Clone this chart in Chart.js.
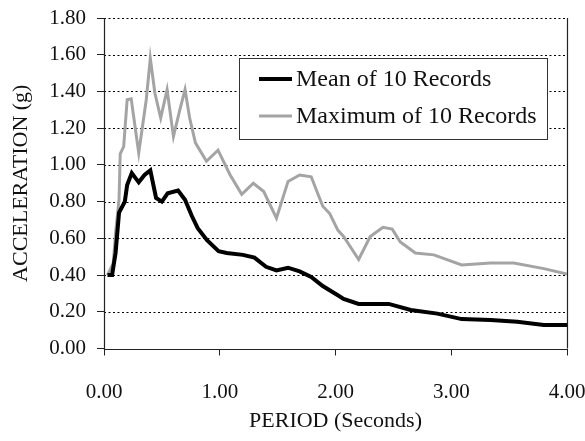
<!DOCTYPE html>
<html>
<head>
<meta charset="utf-8">
<script src="https://cdn.jsdelivr.net/npm/chart.js@4/dist/chart.umd.min.js"></script>
<style>
  html, body { margin: 0; padding: 0; background: #fff; }
  #wrap { width: 585px; height: 441px; }
</style>
</head>
<body>
<div id="wrap"><canvas id="c" width="585" height="441"></canvas></div>
<script>
// ---- data ----
const seriesLabels = ["Mean of 10 Records", "Maximum of 10 Records"];

const meanPeriod = [0.03,0.07,0.10,0.13,0.18,0.20,0.24,0.30,0.35,0.40,0.45,0.50,0.55,0.64,0.70,0.76,0.81,0.89,0.99,1.06,1.20,1.30,1.40,1.49,1.59,1.69,1.79,1.89,2.02,2.07,2.20,2.46,2.65,2.88,3.09,3.34,3.57,3.80,4.00];
const meanAccel  = [0.40,0.40,0.52,0.74,0.80,0.89,0.955,0.905,0.945,0.97,0.82,0.80,0.845,0.86,0.81,0.72,0.655,0.59,0.53,0.52,0.51,0.495,0.445,0.425,0.44,0.42,0.39,0.34,0.29,0.27,0.243,0.243,0.21,0.19,0.16,0.155,0.146,0.128,0.128];

const maxPeriod = [0.03,0.08,0.10,0.13,0.14,0.17,0.20,0.235,0.30,0.365,0.40,0.44,0.49,0.545,0.60,0.655,0.70,0.74,0.79,0.885,0.985,1.09,1.19,1.29,1.38,1.49,1.59,1.69,1.79,1.89,1.95,2.02,2.07,2.20,2.30,2.41,2.49,2.56,2.69,2.85,3.09,3.34,3.54,3.80,4.00];
const maxAccel  = [0.40,0.465,0.63,0.81,1.06,1.10,1.355,1.36,1.065,1.355,1.58,1.39,1.255,1.41,1.155,1.30,1.41,1.255,1.12,1.02,1.08,0.945,0.84,0.90,0.855,0.71,0.91,0.945,0.935,0.775,0.735,0.645,0.61,0.485,0.61,0.66,0.65,0.58,0.52,0.51,0.455,0.465,0.465,0.435,0.405];

const xTicks = [0, 1, 2, 3, 4];
const yTicks = [0, 0.2, 0.4, 0.6, 0.8, 1.0, 1.2, 1.4, 1.6, 1.8];
const xTitle = "PERIOD (Seconds)";
const yTitle = "ACCELERATION (g)";

const toPoints = (xs, ys) => xs.map((x, i) => ({ x: x, y: ys[i] }));

const FONT = "'Liberation Serif', 'Times New Roman', serif";

// dotted horizontal grid + solid frame lines, placed through the chart's own scales
const frameGrid = {
  id: 'frameGrid',
  beforeDatasetsDraw(chart) {
    const ctx = chart.ctx, ys = chart.scales.y, xs = chart.scales.x;
    const L = xs.getPixelForValue(xTicks[0]);
    const R = xs.getPixelForValue(xTicks[xTicks.length - 1]);
    const T = ys.getPixelForValue(yTicks[yTicks.length - 1]);
    const B = ys.getPixelForValue(yTicks[0]);
    ctx.save();
    ctx.strokeStyle = '#000';
    ctx.lineWidth = 1.2;
    ctx.setLineDash([2, 2.5]);
    yTicks.forEach(v => {
      if (v === 0) return;
      const py = Math.round(ys.getPixelForValue(v)) + 0.5;
      ctx.beginPath();
      ctx.moveTo(L, py);
      ctx.lineTo(R, py);
      ctx.stroke();
    });
    ctx.setLineDash([]);
    ctx.strokeStyle = '#222';
    ctx.lineWidth = 1.2;
    const px = Math.round(R) + 0.5;
    ctx.beginPath();
    ctx.moveTo(px, T);
    ctx.lineTo(px, B);
    ctx.stroke();
    const lx = Math.round(L) + 0.5, by = Math.round(B) + 0.5;
    ctx.beginPath();
    ctx.moveTo(lx, T);
    ctx.lineTo(lx, by);
    ctx.lineTo(R, by);
    ctx.stroke();
    ctx.restore();
  }
};

// legend box drawn from the datasets
const boxLegend = {
  id: 'boxLegend',
  afterDatasetsDraw(chart) {
    const ctx = chart.ctx;
    const x0 = 239, y0 = 58, w = 308, h = 81;
    ctx.save();
    ctx.fillStyle = '#fff';
    ctx.fillRect(x0, y0, w, h);
    ctx.strokeStyle = '#333';
    ctx.lineWidth = 1;
    ctx.strokeRect(x0 + 0.5, y0 + 0.5, w, h);
    ctx.font = "24px " + FONT;
    ctx.textBaseline = 'middle';
    ctx.textAlign = 'left';
    const rows = [79, 116];
    chart.data.datasets.forEach((ds, i) => {
      const y = rows[i];
      ctx.strokeStyle = ds.borderColor;
      ctx.lineWidth = ds.borderWidth;
      ctx.beginPath();
      ctx.moveTo(259, y);
      ctx.lineTo(292, y);
      ctx.stroke();
      ctx.fillStyle = '#111';
      ctx.fillText(ds.label, 296, y + 1);
    });
    ctx.restore();
  }
};

new Chart(document.getElementById('c'), {
  type: 'line',
  data: {
    datasets: [
      { label: seriesLabels[0], data: toPoints(meanPeriod, meanAccel), borderColor: '#000', borderWidth: 4, pointRadius: 0, tension: 0, fill: false, order: 0 },
      { label: seriesLabels[1], data: toPoints(maxPeriod, maxAccel), borderColor: '#a4a4a4', borderWidth: 3, pointRadius: 0, tension: 0, fill: false, order: 1 }
    ]
  },
  options: {
    responsive: false,
    animation: false,
    layout: { padding: { top: 18, right: 18, left: 0, bottom: 0 } },
    plugins: { legend: { display: false }, tooltip: { enabled: false } },
    scales: {
      x: {
        type: 'linear',
        min: 0, max: 4,
        afterBuildTicks: (s) => { s.ticks = xTicks.map(v => ({ value: v })); },
        afterFit: (s) => { s.height = 92.5; s.paddingLeft = 0; s.paddingRight = 0; },
        ticks: { color: '#111', font: { family: FONT, size: 21 }, padding: 24, maxRotation: 0, callback: (v) => Number(v).toFixed(2) },
        grid: { drawOnChartArea: false, color: '#222', tickColor: '#222', tickLength: 7, lineWidth: 1 },
        border: { display: false },
        title: { display: true, text: xTitle, color: '#111', font: { family: FONT, size: 22 }, padding: { top: 0, bottom: 7 } }
      },
      y: {
        type: 'linear',
        min: 0, max: 1.8,
        afterBuildTicks: (s) => { s.ticks = yTicks.map(v => ({ value: v })); },
        afterFit: (s) => { s.width = 104; s.paddingTop = 0; s.paddingBottom = 0; },
        ticks: { color: '#111', font: { family: FONT, size: 21 }, padding: 11, callback: (v) => Number(v).toFixed(2) },
        grid: { drawOnChartArea: false, color: '#222', tickColor: '#222', tickLength: 7, lineWidth: 1 },
        border: { display: false },
        title: { display: true, text: yTitle, color: '#111', font: { family: FONT, size: 22 }, padding: { top: 8, bottom: 0 } }
      }
    }
  },
  plugins: [frameGrid, boxLegend]
});
</script>
</body>
</html>
